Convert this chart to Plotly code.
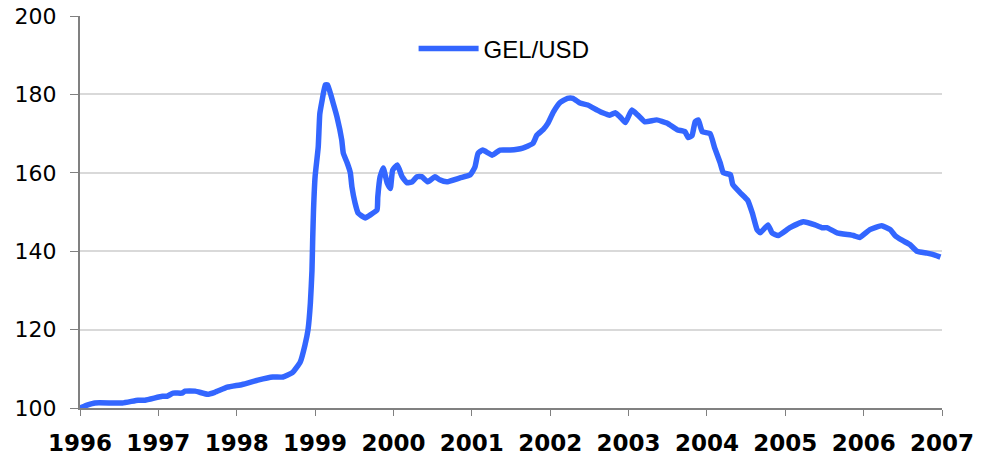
import plotly.graph_objects as go

# Time (fractional year) and GEL/USD index values
years = [1996.00, 1996.10, 1996.19, 1996.54, 1996.74, 1996.83, 1997.05, 1997.11, 1997.19, 1997.30,
         1997.34, 1997.47, 1997.63, 1997.72, 1997.88, 1998.07, 1998.27, 1998.46, 1998.59, 1998.71,
         1998.81, 1998.87, 1998.91, 1998.94, 1998.96, 1998.97, 1998.98, 1999.00, 1999.04, 1999.06,
         1999.09, 1999.13, 1999.16, 1999.23, 1999.28, 1999.34, 1999.36, 1999.41, 1999.45, 1999.47,
         1999.51, 1999.55, 1999.64, 1999.70, 1999.79, 1999.80, 1999.83, 1999.87, 1999.92, 1999.96,
         1999.99, 2000.05, 2000.11, 2000.17, 2000.24, 2000.30, 2000.36, 2000.44, 2000.53, 2000.59,
         2000.68, 2000.85, 2000.98, 2001.04, 2001.08, 2001.14, 2001.26, 2001.36, 2001.49, 2001.65,
         2001.78, 2001.83, 2001.91, 2001.97, 2002.04, 2002.13, 2002.22, 2002.29, 2002.38, 2002.48,
         2002.60, 2002.67, 2002.76, 2002.83, 2002.89, 2002.96, 2003.04, 2003.12, 2003.21, 2003.36,
         2003.49, 2003.62, 2003.72, 2003.76, 2003.81, 2003.85, 2003.89, 2003.94, 2004.04, 2004.10,
         2004.17, 2004.21, 2004.30, 2004.33, 2004.42, 2004.52, 2004.58, 2004.64, 2004.68, 2004.78,
         2004.83, 2004.91, 2005.06, 2005.23, 2005.38, 2005.47, 2005.53, 2005.66, 2005.87, 2005.95,
         2006.08, 2006.23, 2006.34, 2006.40, 2006.49, 2006.59, 2006.68, 2006.81, 2006.91, 2006.98]

gel_usd = [100.0, 100.8, 101.3, 101.3, 102.0, 102.0, 103.0, 103.0, 103.8, 103.8,
           104.3, 104.3, 103.5, 104.0, 105.3, 106.0, 107.1, 107.9, 107.9, 109.0,
           111.7, 116.0, 120.0, 126.8, 135.0, 143.6, 150.5, 159.0, 166.6, 175.0,
           178.5, 182.4, 182.4, 177.8, 174.2, 168.4, 165.0, 162.5, 160.0, 156.4,
           152.3, 149.7, 148.5, 149.2, 150.5, 153.8, 159.0, 161.2, 157.4, 156.0,
           160.7, 162.0, 159.0, 157.5, 157.7, 159.0, 159.0, 157.7, 159.0, 158.2,
           157.7, 158.7, 159.5, 161.5, 165.0, 165.8, 164.5, 165.8, 165.8, 166.3,
           167.5, 169.6, 171.0, 172.6, 175.5, 178.0, 179.0, 179.0, 177.8, 177.3,
           176.0, 175.3, 174.7, 175.3, 174.3, 172.8, 176.0, 174.7, 173.0, 173.5,
           172.7, 171.0, 170.5, 169.0, 169.5, 173.0, 173.5, 170.5, 170.0, 166.3,
           162.5, 160.0, 159.5, 157.0, 155.0, 153.0, 149.7, 145.5, 144.7, 146.7,
           144.7, 144.0, 146.0, 147.5, 146.7, 146.0, 146.0, 144.7, 144.0, 143.5,
           145.5, 146.5, 145.5, 144.0, 142.8, 141.7, 140.0, 139.5, 139.0, 138.5]

x_ticks = list(range(1996, 2008))
y_ticks = [100, 120, 140, 160, 180, 200]

fig = go.Figure()
fig.add_trace(go.Scatter(
    x=years, y=gel_usd, mode="lines", name="GEL/USD",
    line=dict(color="#3366FF", width=5.5, shape="spline", smoothing=0.4),
))

fig.update_layout(
    width=990, height=456,
    margin=dict(l=80, r=48, t=16, b=48),
    paper_bgcolor="white", plot_bgcolor="white",
    showlegend=True,
    legend=dict(x=0.387, y=0.916, xanchor="left", yanchor="middle",
                font=dict(family="Liberation Sans, Arial", size=24, color="black"),
                bgcolor="rgba(0,0,0,0)", itemwidth=60),
    xaxis=dict(range=[1996, 2007], tickmode="array", tickvals=x_ticks,
               ticktext=[str(t) for t in x_ticks], automargin=False,
               showgrid=False, zeroline=False,
               showline=True, linecolor="#808080", linewidth=2,
               ticks="outside", ticklen=6, tickcolor="#808080", tickwidth=1,
               ticklabelstandoff=7,
               tickfont=dict(family="DejaVu Sans", size=23, color="black", weight="bold")),
    yaxis=dict(range=[100, 200], tickmode="array", tickvals=y_ticks, automargin=False,
               showgrid=True, gridcolor="#D9D9D9", gridwidth=1.5, zeroline=False,
               showline=True, linecolor="#808080", linewidth=2,
               ticks="outside", ticklen=8, tickcolor="#808080", tickwidth=1,
               ticklabelstandoff=9,
               tickfont=dict(family="DejaVu Sans", size=22, color="black")),
)

fig.write_html("out.html", config={"displayModeBar": False},
               post_script="document.body.style.margin='0';")
